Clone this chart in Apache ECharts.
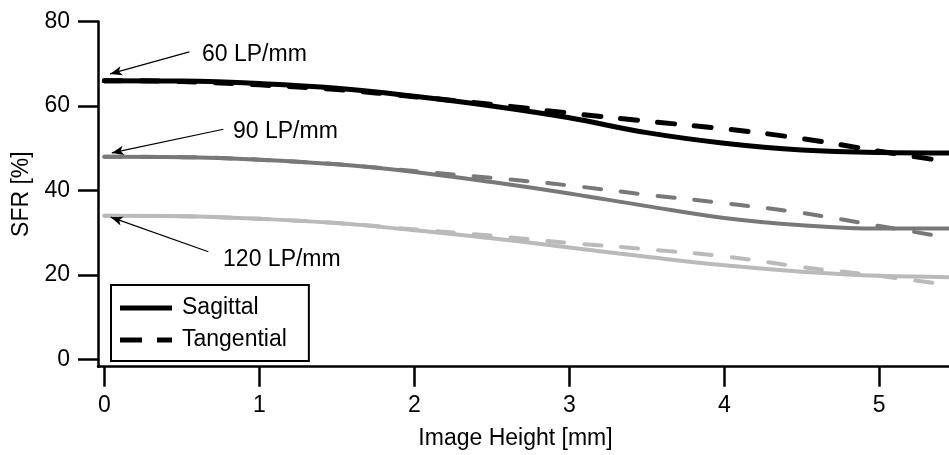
<!DOCTYPE html>
<html>
<head>
<meta charset="utf-8">
<script src="https://cdn.jsdelivr.net/npm/echarts@6/dist/echarts.min.js"></script>
<style>html,body{margin:0;padding:0;background:#fff}#c{width:949px;height:455px}</style>
</head>
<body>
<div id="c"></div>
<script>
// Image height positions (mm)
const xs = [0, 0.5, 1, 1.5, 2, 2.5, 3, 3.5, 4, 4.5, 5, 5.45];
// SFR values [%]
const sag60  = [66.0, 65.9, 65.3, 64.2, 62.3, 60.0, 57.2, 53.7, 51.2, 49.6, 49.0, 48.9];
const tan60  = [66.0, 65.8, 65.0, 63.9, 62.2, 60.4, 58.3, 56.4, 54.6, 52.3, 49.3, 46.8];
const sag90  = [48.0, 47.9, 47.3, 46.2, 44.4, 42.0, 39.3, 36.3, 33.5, 31.8, 31.0, 31.0];
const tan90  = [48.0, 47.9, 47.3, 46.2, 44.6, 43.0, 41.2, 39.0, 37.0, 34.7, 31.6, 28.8];
const sag120 = [34.0, 33.9, 33.3, 32.3, 30.6, 28.7, 26.5, 24.3, 22.3, 20.8, 19.8, 19.5];
const tan120 = [34.0, 33.9, 33.3, 32.3, 30.8, 29.3, 27.6, 26.1, 24.4, 21.9, 19.8, 17.6];

const xTicks = [0, 1, 2, 3, 4, 5];
const yTicks = [0, 20, 40, 60, 80];

// annotations: label text, label anchor, arrow start, arrow tip
const annotText  = ['60 LP/mm', '90 LP/mm', '120 LP/mm'];
const annotLabelX = [0.63, 0.83, 0.766];
const annotLabelY = [72.2, 54.0, 23.7];
const arrowFromX = [0.548, 0.768, 0.671];
const arrowFromY = [72.8, 54.5, 25.5];
const arrowToX   = [0.037, 0.048, 0.041];
const arrowToY   = [67.6, 48.9, 33.7];

const FONT = 'Liberation Sans, Arial, Helvetica, sans-serif';
const zip = (a) => xs.map((x, i) => [x, a[i]]);

function lineSeries(name, data, color, width, dashed, z) {
  return {
    name: name, type: 'line', data: zip(data), smooth: 0.4, symbol: 'none', z: z,
    lineStyle: { color: color, width: width, type: dashed ? [17, 20] : 'solid', cap: 'round' },
    itemStyle: { color: color },
    emphasis: { disabled: true }, silent: true
  };
}

const series = [
  lineSeries('120s', sag120, '#bababa', 4, false, 2),
  lineSeries('120t', tan120, '#bababa', 4, true, 2),
  lineSeries('90s', sag90, '#787878', 4, false, 3),
  lineSeries('90t', tan90, '#787878', 4, true, 3),
  lineSeries('60s', sag60, '#000000', 5, false, 4),
  lineSeries('60t', tan60, '#000000', 5, true, 4),
  // legend proxies
  { name: 'Sagittal', type: 'line', data: [], symbol: 'none',
    lineStyle: { color: '#000', width: 5 }, itemStyle: { color: '#000' } },
  { name: 'Tangential', type: 'line', data: [], symbol: 'none',
    lineStyle: { color: '#000', width: 5, type: [17, 20] }, itemStyle: { color: '#000' } },
  // annotations
  {
    name: 'annot', type: 'scatter', symbolSize: 0, silent: true, z: 5,
    itemStyle: { opacity: 1, color: '#000' },
    data: annotText.map((t, i) => ({ value: [annotLabelX[i], annotLabelY[i]], name: t })),
    label: { show: true, position: [0, 0], align: 'left', verticalAlign: 'middle',
      formatter: (p) => p.name, fontSize: 23, fontFamily: FONT, color: '#000', opacity: 1 },
    markLine: {
      silent: true, animation: false,
      symbol: ['none', 'arrow'], symbolSize: [7, 12],
      lineStyle: { color: '#000', width: 1.2, type: 'solid', opacity: 1 },
      itemStyle: { color: '#000', opacity: 1 },
      label: { show: false },
      data: annotText.map((t, i) => [
        { coord: [arrowFromX[i], arrowFromY[i]] },
        { coord: [arrowToX[i], arrowToY[i]] }
      ])
    }
  }
];

const chart = echarts.init(document.getElementById('c'));
chart.setOption({
  animation: false,
  backgroundColor: '#fff',
  textStyle: { fontFamily: FONT },
  grid: { left: 98, right: 0, top: 21.5, bottom: 88.3, containLabel: false },
  legend: {
    data: [
      { name: 'Sagittal', icon: 'path://M0,0H52V5H0Z' },
      { name: 'Tangential', icon: 'path://M0,0H22V5H0Z M37,0H52V5H37Z' }
    ],
    orient: 'vertical', left: 111, top: 285,
    itemWidth: 52, itemHeight: 5, itemGap: 6,
    padding: [10, 22, 8, 9],
    borderColor: '#000', borderWidth: 2, borderRadius: 0,
    selectedMode: false,
    itemStyle: { color: '#000', borderWidth: 0 },
    textStyle: { fontSize: 23, fontFamily: FONT, color: '#000', lineHeight: 26, padding: [0, 0, 0, 5] }
  },
  xAxis: {
    type: 'value', min: -0.041, max: 5.45,
    name: 'Image Height [mm]', nameLocation: 'middle', nameGap: 60,
    nameTextStyle: { fontSize: 23, fontFamily: FONT, color: '#000', padding: [0, 16, 0, 0] },
    axisLine: { show: true, onZero: false, lineStyle: { color: '#000', width: 2.5 } },
    axisTick: { show: true, inside: false, length: 20, customValues: xTicks, lineStyle: { color: '#000', width: 2.5 } },
    axisLabel: { show: true, customValues: xTicks, margin: 27, fontSize: 23, fontFamily: FONT, color: '#000' },
    splitLine: { show: false }
  },
  yAxis: {
    type: 'value', min: -1.7, max: 80,
    name: 'SFR [%]', nameLocation: 'middle', nameGap: 62, nameRotate: 90,
    nameTextStyle: { fontSize: 23, fontFamily: FONT, color: '#000' },
    axisLine: { show: true, onZero: false, lineStyle: { color: '#000', width: 2.5 } },
    axisTick: { show: true, inside: false, length: 20, customValues: yTicks, lineStyle: { color: '#000', width: 2.5 } },
    axisLabel: { show: true, customValues: yTicks, margin: 28, fontSize: 23, fontFamily: FONT, color: '#000' },
    splitLine: { show: false }
  },
  series: series
});
</script>
</body>
</html>
